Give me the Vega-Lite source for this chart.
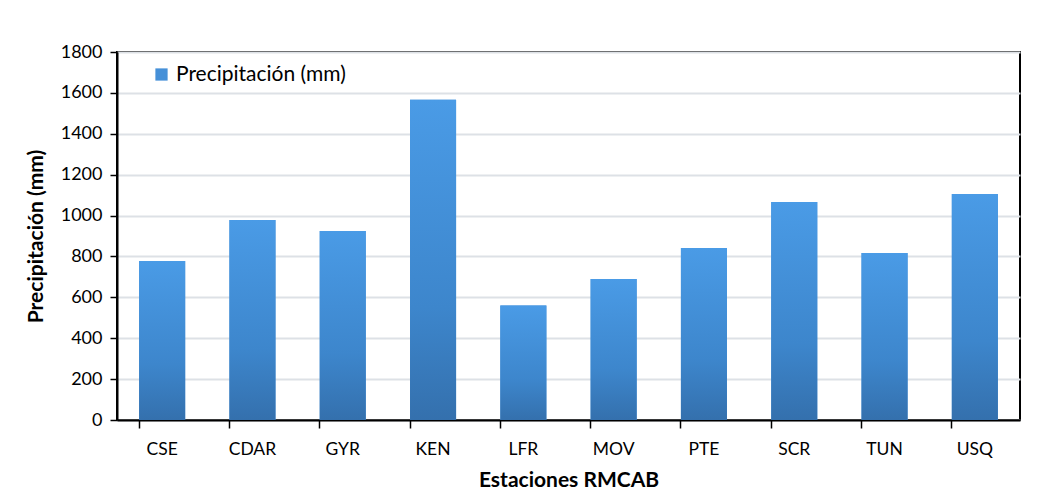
{
  "$schema": "https://vega.github.io/schema/vega-lite/v6.json",
  "width": 903,
  "height": 368,
  "autosize": {"type": "none"},
  "padding": {"left": 117, "top": 52, "right": 30, "bottom": 84},
  "background": "white",
  "config": {
    "view": {"stroke": "black", "strokeWidth": 2},
    "font": "Lato"
  },
  "data": {
    "values": [
      {"estacion": "CSE", "precip": 778},
      {"estacion": "CDAR", "precip": 978},
      {"estacion": "GYR", "precip": 925},
      {"estacion": "KEN", "precip": 1567},
      {"estacion": "LFR", "precip": 560},
      {"estacion": "MOV", "precip": 690},
      {"estacion": "PTE", "precip": 841},
      {"estacion": "SCR", "precip": 1066},
      {"estacion": "TUN", "precip": 817},
      {"estacion": "USQ", "precip": 1106}
    ]
  },
  "encoding": {
    "x": {
      "field": "estacion",
      "type": "nominal",
      "sort": null,
      "scale": {"paddingInner": 0.49, "paddingOuter": 0.245},
      "axis": {
        "title": "Estaciones RMCAB",
        "titleFontSize": 21,
        "titleFontWeight": "bold",
        "titleColor": "black",
        "titlePadding": 12,
        "labelAngle": 0,
        "labelFontSize": 17.5,
        "labelColor": "black",
        "labelPadding": 12,
        "domainColor": "black",
        "domainWidth": 2,
        "tickColor": "black",
        "tickWidth": 1.5,
        "tickSize": 8,
        "bandPosition": 0
      }
    },
    "y": {
      "field": "precip",
      "type": "quantitative",
      "scale": {"domain": [0, 1800], "nice": false},
      "axis": {
        "title": "Precipitación (mm)",
        "titleFontSize": 21,
        "titleFontWeight": "bold",
        "titleColor": "black",
        "titlePadding": 14,
        "values": [0, 200, 400, 600, 800, 1000, 1200, 1400, 1600, 1800],
        "format": "d",
        "labelFontSize": 18,
        "labelColor": "black",
        "labelPadding": 8,
        "domainColor": "black",
        "domainWidth": 2,
        "tickColor": "black",
        "tickWidth": 1.5,
        "tickSize": 7,
        "gridColor": "#dde1e6",
        "gridWidth": 2
      }
    }
  },
  "layer": [
    {
      "mark": {"type": "bar"},
      "encoding": {
        "color": {
          "datum": "Precipitación (mm)",
          "type": "nominal",
          "scale": {"range": ["#4690d8"]},
          "legend": {
            "title": null,
            "orient": "none",
            "legendX": 34,
            "legendY": 12,
            "symbolType": "square",
            "symbolSize": 150,
            "symbolStrokeWidth": 0,
            "labelFontSize": 21,
            "labelColor": "black",
            "labelOffset": 4,
            "labelLimit": 400
          }
        }
      }
    },
    {
      "mark": {
        "type": "bar",
        "color": {
          "gradient": "linear",
          "x1": 0, "y1": 1, "x2": 0, "y2": 0,
          "stops": [
            {"offset": 0, "color": "#3470ad"},
            {"offset": 0.35, "color": "#3d86cc"},
            {"offset": 1, "color": "#4a9be6"}
          ]
        }
      }
    }
  ]
}
